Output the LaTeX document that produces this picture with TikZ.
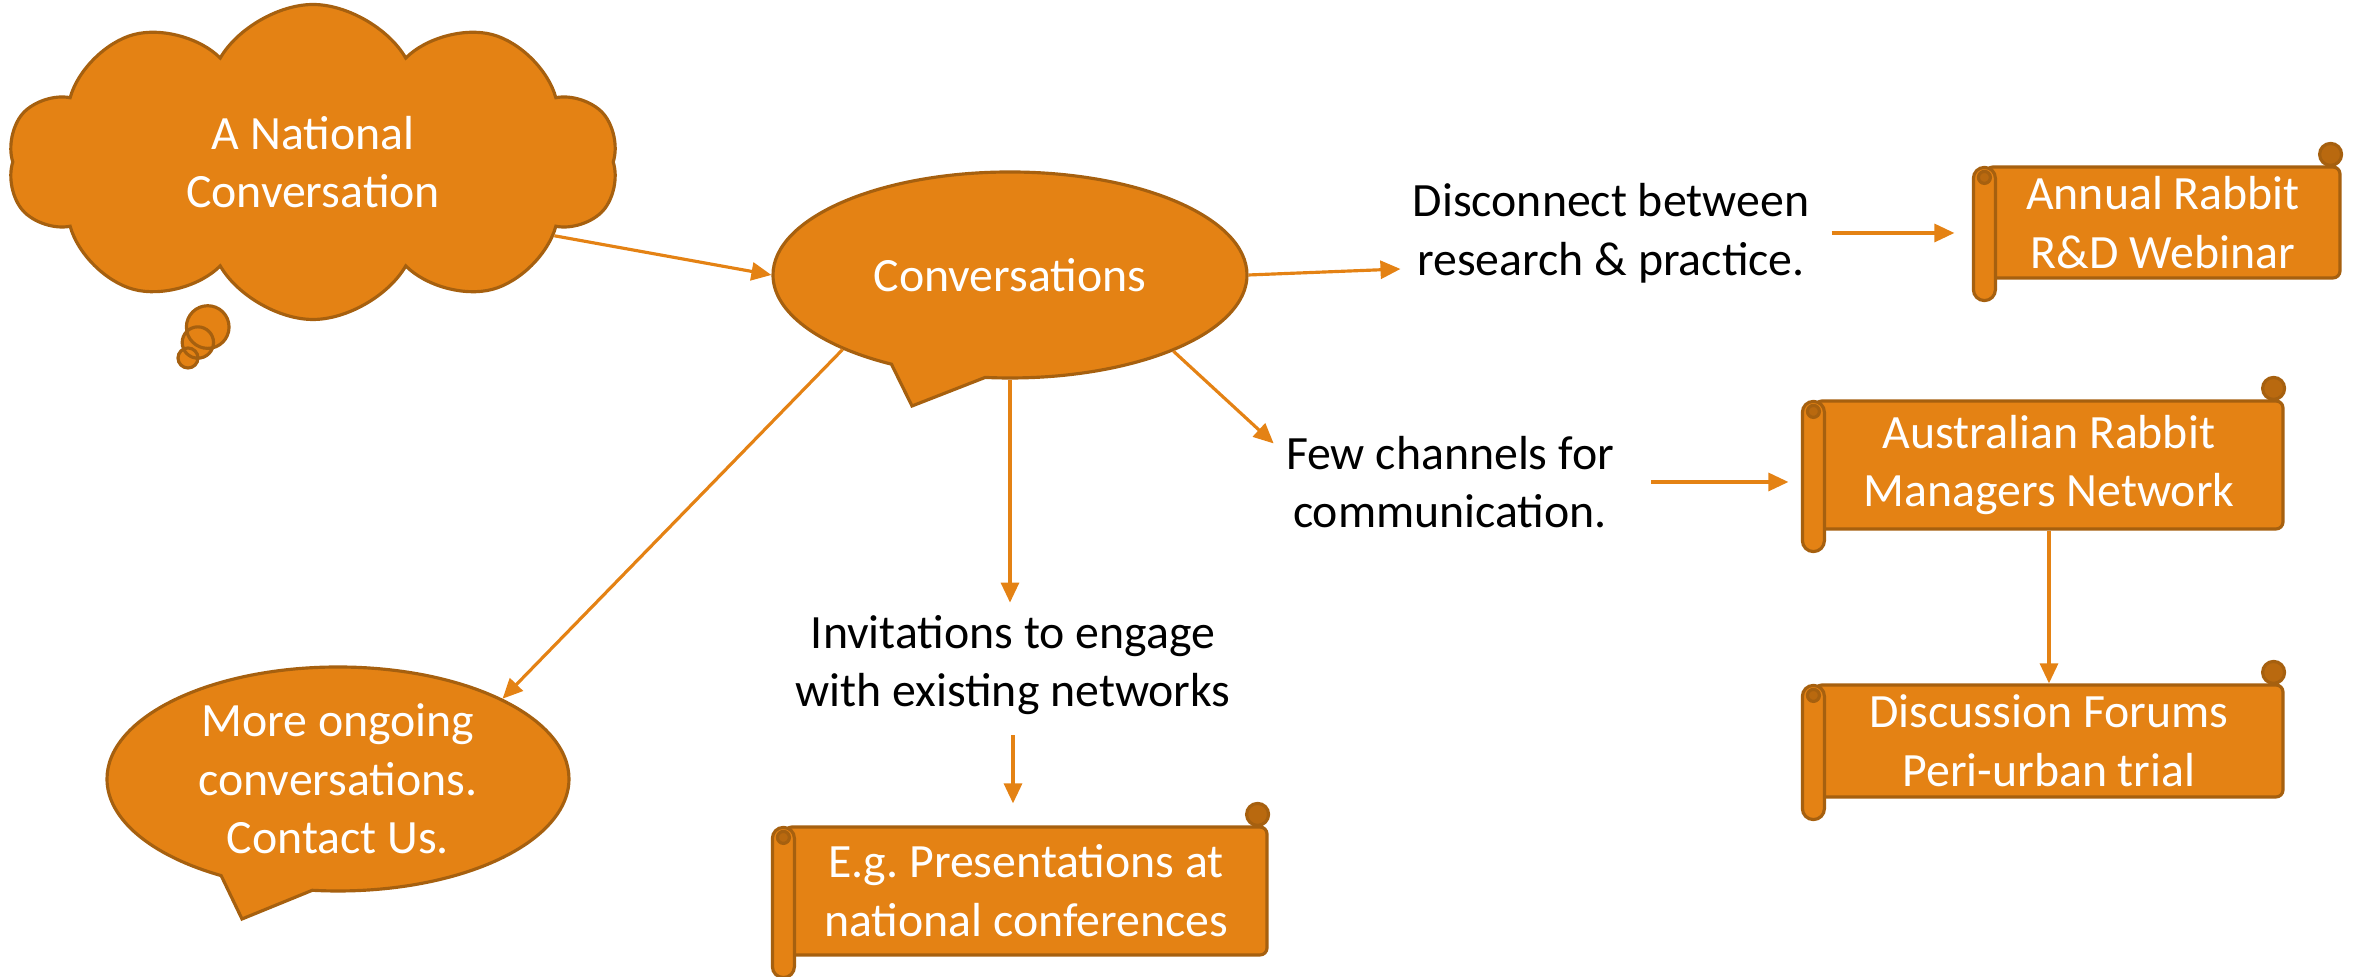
\documentclass[tikz,border=0pt]{standalone}
\usepackage{fontspec}
\setmainfont{Carlito}
\usetikzlibrary{shapes.callouts,shapes.symbols,arrows.meta,calc}
\definecolor{ppfill}{HTML}{E48214}
\definecolor{ppline}{HTML}{A6600F}
\definecolor{ppcurl}{HTML}{B9690F}

\begin{document}
\begin{tikzpicture}[
  txt/.style={font=\fontsize{13.6}{16.7}\selectfont, align=center},
  bubble/.style={txt, ellipse callout, fill=ppfill, draw=ppline, line width=0.9pt, text=white, inner sep=0pt, callout pointer arc=24},
  scrollbody/.style={txt, rectangle, rounded corners=2pt, fill=ppfill, draw=ppline, line width=0.9pt, text=white, inner sep=0pt},
  roll/.style={fill=ppfill, draw=ppline, line width=0.9pt, rounded corners=3.1pt},
  curl/.style={fill=ppcurl, draw=ppline, line width=0.9pt},
  link/.style={draw=ppfill, line width=0.9pt, -{Triangle[length=2mm,width=1.8mm]}}
]
\useasboundingbox (0,0) rectangle (23.54,-9.77);

% thought cloud
\node[txt, cloud callout, cloud puffs=10, cloud puff arc=120, cloud ignores aspect,
  minimum width=6.1cm, minimum height=3.15cm, fill=ppfill, draw=ppline, line width=0.9pt, text=white,
  callout absolute pointer={(1.88,-3.58)}, callout pointer segments=3,
  callout pointer start size=5.4mm, callout pointer end size=2mm] (natl) at (3.13,-1.62) {A National\\Conversation};

% speech bubbles
\node[bubble, minimum width=4.74cm, minimum height=2.06cm, callout absolute pointer={(9.12,-4.06)}] (conv) at (10.10,-2.75) {Conversations};
\node[bubble, minimum width=4.62cm, minimum height=2.24cm, callout absolute pointer={(2.42,-9.19)}] (more) at (3.38,-7.79) {More ongoing\\conversations.\\Contact Us.};

% plain labels
\node[txt] (disc) at (16.11,-2.33) {Disconnect between\\research \& practice.};
\node[txt] (few) at (14.50,-4.82) {Few channels for\\communication.};
\node[txt] (inv) at (10.13,-6.65) {Invitations to engage\\with existing networks};

% scrolls
\node[scrollbody, minimum width=3.54cm, minimum height=1.11cm] (annual) at (21.63,-2.225) {Annual Rabbit\\R\&D Webinar};
\node[scrollbody, minimum width=4.68cm, minimum height=1.28cm] (austr) at (20.49,-4.65) {Australian Rabbit\\Managers Network};
\node[scrollbody, minimum width=4.68cm, minimum height=1.12cm] (forums) at (20.49,-7.41) {Discussion Forums\\Peri-urban trial};
\node[scrollbody, minimum width=4.82cm, minimum height=1.28cm] (eg) at (10.26,-8.91) {E.g.\ Presentations at\\national conferences};
\foreach \s in {annual,austr,forums,eg}{
  \draw[roll] ($(\s.north west)+(-0.11,-0.02)$) rectangle ($(\s.south west)+(0.11,-0.21)$);
  \draw[curl] ($(\s.north west)+(0,-0.12)$) circle (0.06);
  \draw[curl] ($(\s.north east)+(-0.11,0.11)$) circle (0.11);
}

% arrows
\draw[link] (natl.-17) -- (conv.west);
\draw[link] (conv.east) -- ([yshift=-3.6mm]disc.west);
\draw[link] ([xshift=1mm]disc.east) -- ($(disc.east -| annual.west)+(-0.3,0)$);
\draw[link] (conv.-25) -- ([yshift=-2mm]few.north west);
\draw[link] ([xshift=2.5mm]few.east) -- ($(few.east -| austr.west)+(-0.25,0)$);
\draw[link] (austr) -- (forums);
\draw[link] (conv.south) -- (conv.south |- inv.north);
\draw[link] ([yshift=-0.8mm]inv.south) -- ($(inv.south |- eg.north)+(0,0.22)$);
\draw[link] (conv.204) -- (more.26);
\end{tikzpicture}
\end{document}
